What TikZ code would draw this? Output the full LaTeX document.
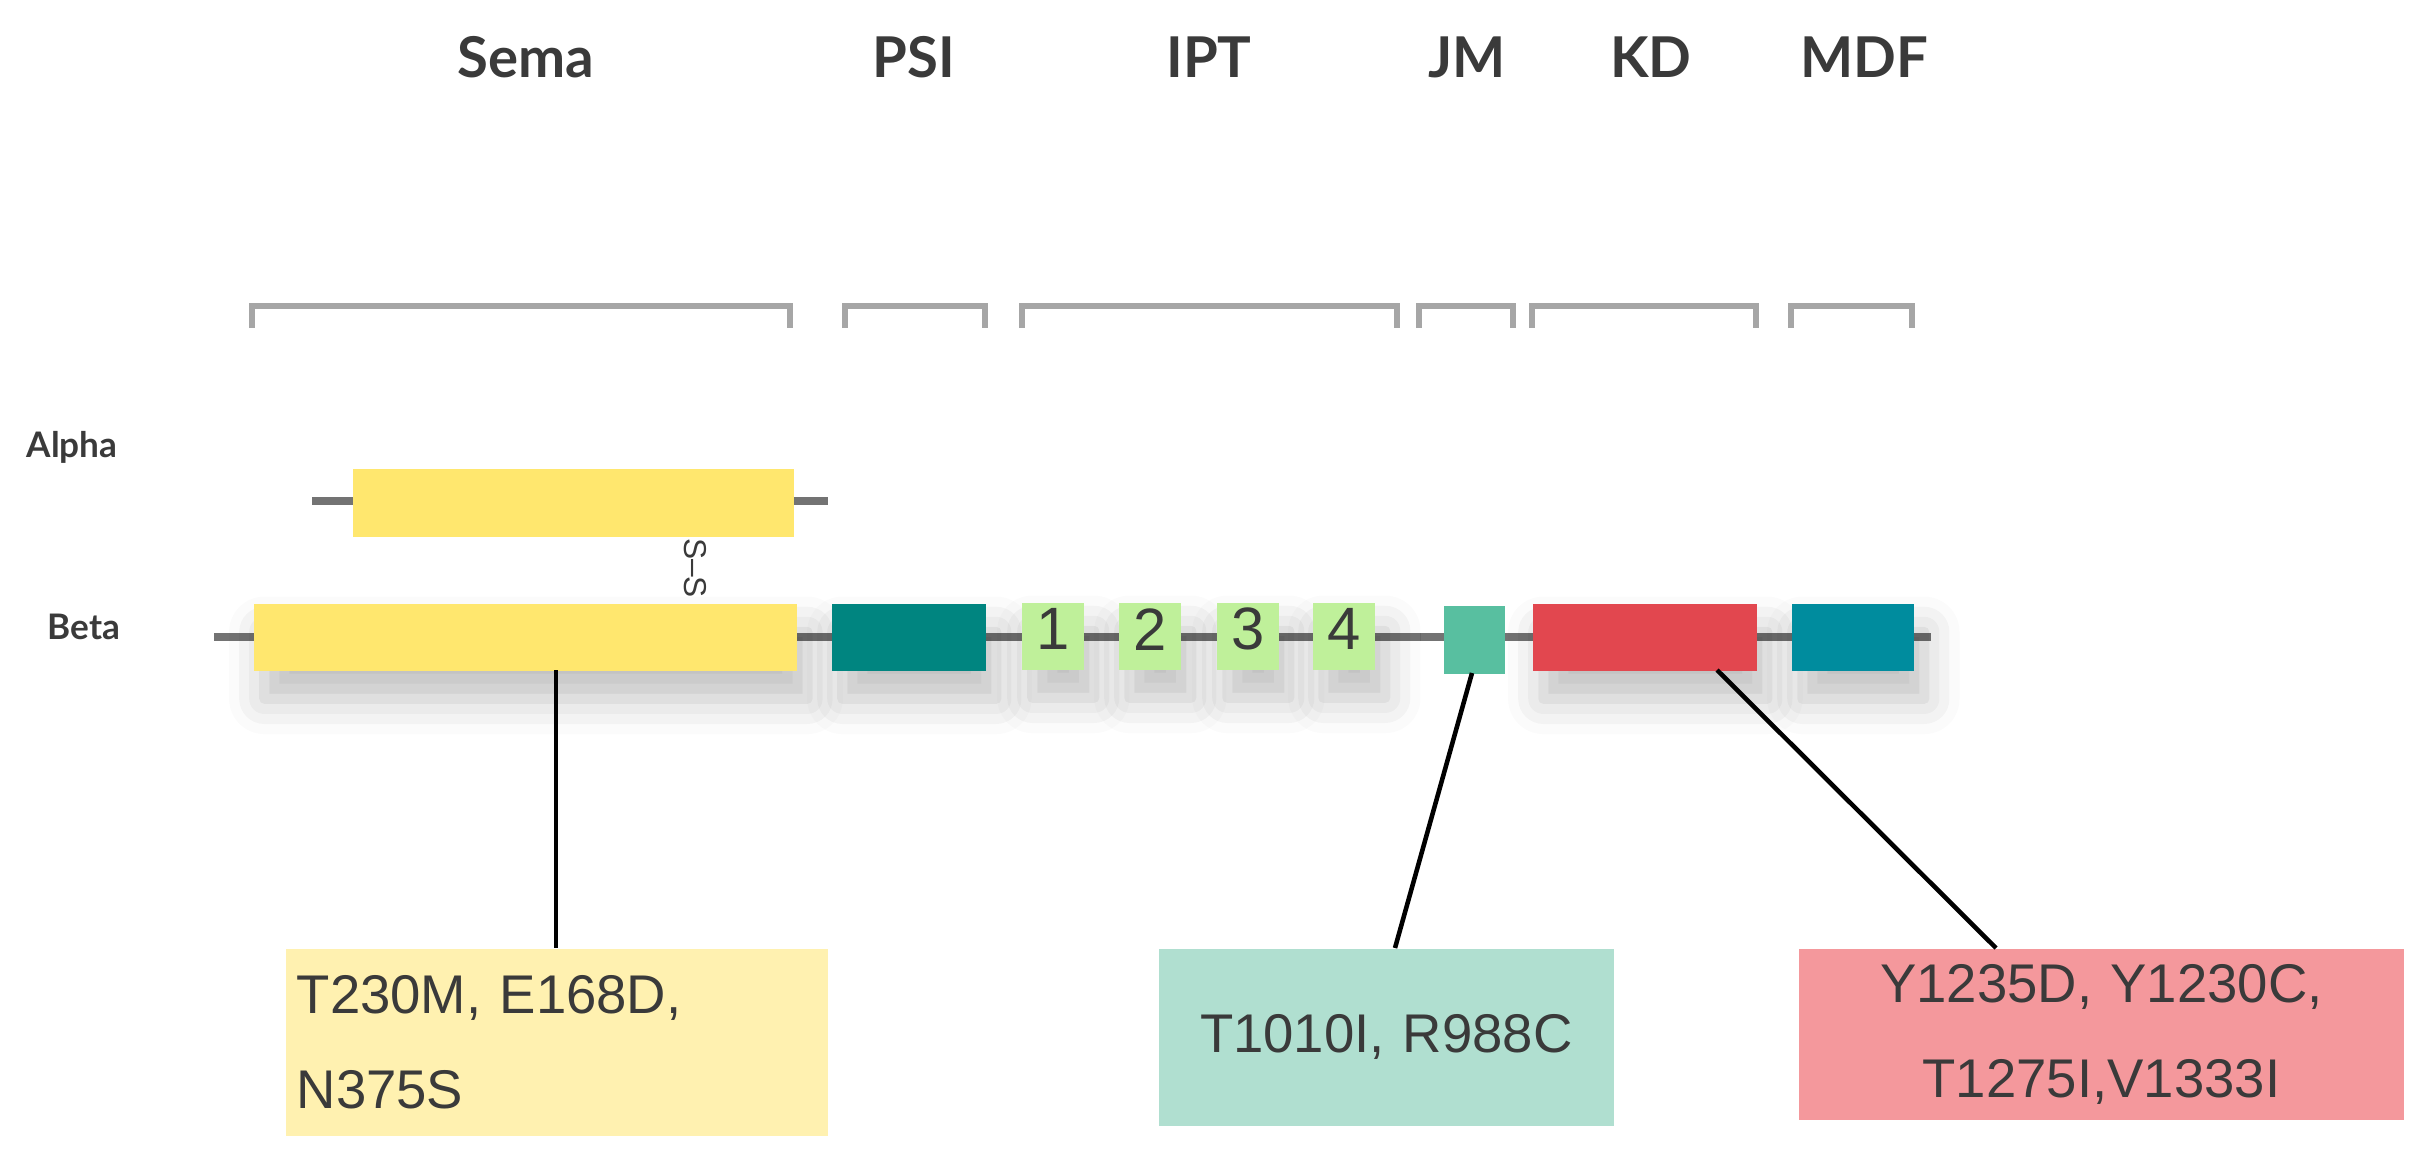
\documentclass[tikz,border=0pt]{standalone}
\usepackage{fontspec}
\setmainfont{Liberation Sans}
\newfontfamily\hdr{Lato}
\usetikzlibrary{shadows.blur}
\definecolor{semaY}{HTML}{FFE76E}
\definecolor{psiC}{HTML}{008580}
\definecolor{iptC}{HTML}{BFF09A}
\definecolor{jmC}{HTML}{58BFA0}
\definecolor{kdC}{HTML}{E2474F}
\definecolor{mdfC}{HTML}{008C9E}
\definecolor{lblY}{HTML}{FFF1B0}
\definecolor{lblT}{HTML}{B0DFD0}
\definecolor{lblR}{HTML}{F4989C}
\definecolor{txt}{HTML}{3A3A3A}
\begin{document}
\begin{tikzpicture}[x=0.01cm,y=-0.01cm,
  dom/.style={rectangle,draw=none,inner sep=0pt,anchor=north west},
  shd/.style={blur shadow={shadow xshift=3pt,shadow yshift=-8pt,shadow blur radius=10pt,shadow opacity=25}},
  bk/.style={draw=gray!70,line width=1.6pt},
  bb/.style={draw=gray!90!black,line width=2pt},
  hd/.style={font=\hdr\bfseries\fontsize{16}{18}\selectfont,text=txt},
  side/.style={font=\hdr\bfseries\fontsize{10}{12}\selectfont,text=txt},
  lbl/.style={rectangle,inner sep=0pt,anchor=north west,align=left,font=\fontsize{15.5}{27}\selectfont,text=txt},
  num/.style={font=\fontsize{17}{18}\selectfont,text=txt},
  con/.style={draw=black,line width=1.3pt}]
\useasboundingbox (0,0) rectangle (2426,1157);
% headers
\node[hd] (hSema) at (526,57) {Sema};
\node[hd] (hPSI) at (914,57) {PSI};
\node[hd] (hIPT) at (1209,57) {IPT};
\node[hd] (hJM) at (1467,57) {JM};
\node[hd] (hKD) at (1651,57) {KD};
\node[hd] (hMDF) at (1864,57) {MDF};
% brackets
\foreach \a/\b in {252/790, 845/985, 1022/1397, 1419/1513, 1532/1756, 1791/1912}
  \draw[bk] (\a,328) -- (\a,306) -- (\b,306) -- (\b,328);
% side labels
\node[side] (lA) at (72,447) {Alpha};
\node[side] (lB) at (84,627) {Beta};
% backbone lines
\coordinate (a0) at (312,501); \coordinate (a1) at (828,501);
\draw[bb] (a0) -- (a1);
\coordinate (b0) at (214,637); \coordinate (b1) at (1931,637);
\draw[bb] (b0) -- (b1);
% alpha
\node[dom,fill=semaY,minimum width=441\pgflinewidth,minimum width=4.41cm,minimum height=0.68cm] (alpha) at (352,468) {};
% beta domains
\node[dom,fill=semaY,shd,minimum width=5.43cm,minimum height=0.67cm] (sema) at (253,603) {};
\node[dom,fill=psiC,shd,minimum width=1.54cm,minimum height=0.67cm] (psi) at (831,603) {};
\foreach \n/\x in {1/1021,2/1118,3/1216,4/1312}
  \node[dom,fill=iptC,shd,minimum width=0.62cm,minimum height=0.67cm] (ipt\n) at (\x,602) {};
\foreach \n in {1,2,3,4}
  \node[num] (n\n) at ([yshift=2pt]ipt\n.center) {\n};
\node[dom,fill=jmC,minimum width=0.61cm,minimum height=0.68cm] (jm) at (1443,605) {};
\node[dom,fill=kdC,shd,minimum width=2.24cm,minimum height=0.67cm] (kd) at (1532,603) {};
\node[dom,fill=mdfC,shd,minimum width=1.22cm,minimum height=0.67cm] (mdf) at (1791,603) {};
% S-S
\node[rotate=-90,font=\fontsize{9}{10}\selectfont,text=txt] (ss) at (695,568) {S–S};
% label boxes
\node[lbl,fill=lblY,minimum width=5.42cm,minimum height=1.87cm,text width=5.2cm,inner xsep=0.11cm] (L1) at (285,948) {T230M, E168D,\\N375S};
\node[lbl,fill=lblT,minimum width=4.55cm,minimum height=1.77cm,text width=4.55cm,align=center] (L2) at (1158,948) {T1010I, R988C};
\node[lbl,fill=lblR,minimum width=6.05cm,minimum height=1.71cm,text width=6.05cm,align=center] (L3) at (1798,948) {Y1235D, Y1230C,\\T1275I,V1333I};
% connectors
\coordinate (c1) at (556,670);
\draw[con] (c1) -- (c1 |- L1.north);
\coordinate (c2) at (1472,673); \coordinate (e2) at (1395,948);
\draw[con] (c2) -- (e2);
\coordinate (c3) at (1717,670); \coordinate (e3) at (1996,948);
\draw[con] (c3) -- (e3);
\end{tikzpicture}
\end{document}
